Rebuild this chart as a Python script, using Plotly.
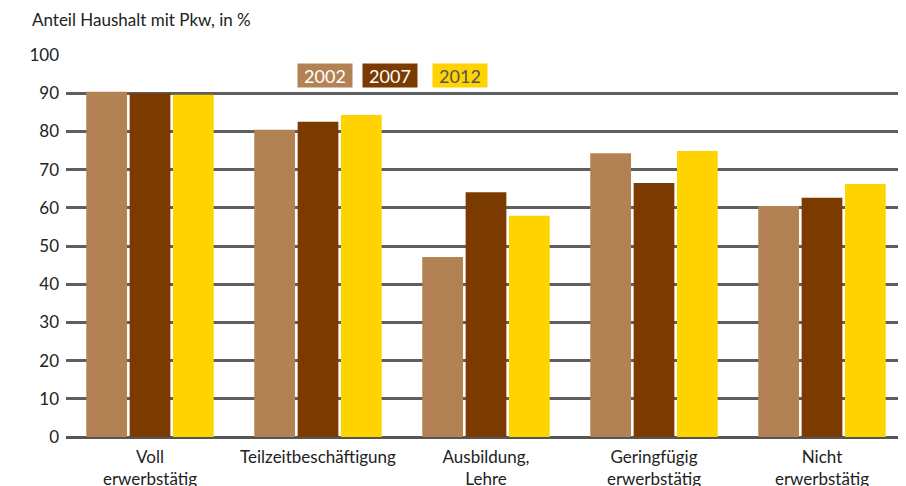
import plotly.graph_objects as go

categories = ["Voll<br>erwerbstätig", "Teilzeitbeschäftigung", "Ausbildung,<br>Lehre",
              "Geringfügig<br>erwerbstätig", "Nicht<br>erwerbstätig"]
years = ["2002", "2007", "2012"]
v2002 = [90.4, 80.4, 47.1, 74.3, 60.5]
v2007 = [90.0, 82.5, 64.1, 66.5, 62.6]
v2012 = [89.6, 84.3, 57.9, 74.9, 66.2]
y_ticks = [0, 10, 20, 30, 40, 50, 60, 70, 80, 90, 100]

colors = ["#B38254", "#7B3A00", "#FFD300"]
text_colors = ["#ffffff", "#ffffff", "#555555"]
font = "Lato, Open Sans, sans-serif"

fig = go.Figure()
for name, vals, c in zip(years, [v2002, v2007, v2012], colors):
    fig.add_trace(go.Bar(x=categories, y=vals, name=name, marker_color=c,
                         marker_line_width=0, showlegend=False))

# page body has an 8px margin, so the figure is 8px smaller and margins compensate
fig.update_layout(
    width=898, height=478,
    margin=dict(l=58, r=0, t=47, b=49),
    plot_bgcolor="white", paper_bgcolor="white",
    barmode="group", bargap=0.226, bargroupgap=0.06,
    font=dict(family=font, size=17, color="#222222"),
    xaxis=dict(showgrid=False, showline=False, ticks="", tickfont=dict(size=17),
               range=[-0.5, 4.5], automargin=False, ticklabelstandoff=8),
    yaxis=dict(range=[0, 100], tickvals=y_ticks, showgrid=True, gridcolor="#5e5e5e",
               gridwidth=2.5, zeroline=True, zerolinecolor="#555555", zerolinewidth=2.5,
               showline=False, ticks="", ticklabelstandoff=6, tickfont=dict(size=17),
               automargin=False),
    annotations=[
        dict(text="Anteil Haushalt mit Pkw, in %", xref="paper", yref="paper",
             x=-0.0429, y=1.092, xanchor="left", yanchor="middle", showarrow=False,
             font=dict(size=17, color="#222222")),
    ],
)

leg_x = [0.3083, 0.3863, 0.469]
for name, c, tc, xx in zip(years, colors, text_colors, leg_x):
    fig.add_annotation(text=name, xref="paper", yref="paper", x=xx, y=0.946,
                       xanchor="center", yanchor="middle", showarrow=False,
                       bgcolor=c, width=52, height=21,
                       font=dict(size=18, color=tc))

fig.write_html("out.html")
